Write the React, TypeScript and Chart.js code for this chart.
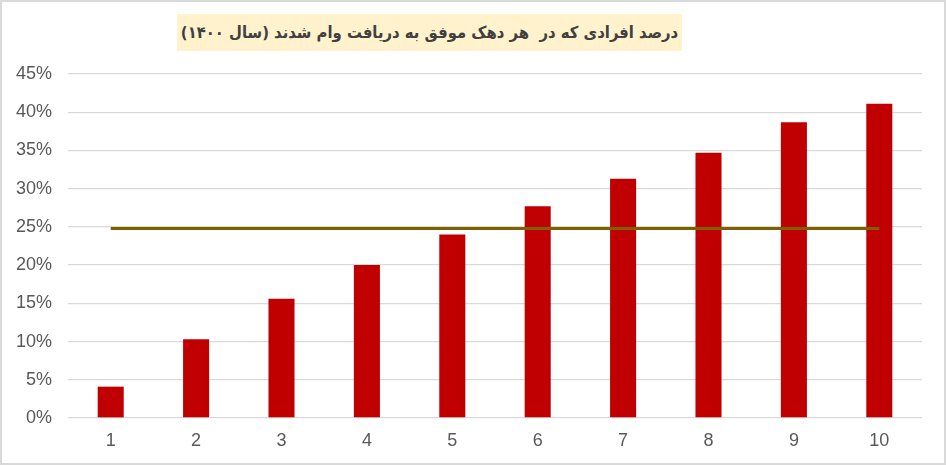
import { useEffect, useRef } from "react";
import Chart from "chart.js/auto";

const TITLE = "درصد افرادی که در  هر دهک موفق به دریافت وام شدند (سال ۱۴۰۰)";

const deciles = ["1", "2", "3", "4", "5", "6", "7", "8", "9", "10"];
const shareWithLoan = [4.1, 10.3, 15.6, 20.0, 24.0, 27.7, 31.3, 34.7, 38.7, 41.1];
const averageShare = [24.8, 24.8, 24.8, 24.8, 24.8, 24.8, 24.8, 24.8, 24.8, 24.8];

export default function App() {
	const canvasRef = useRef<HTMLCanvasElement>(null);
	const chartRef = useRef<Chart | null>(null);

	useEffect(() => {
		document.body.style.margin = "0";
		if (!canvasRef.current) return;
		if (chartRef.current) chartRef.current.destroy();

		chartRef.current = new Chart(canvasRef.current, {
			type: "bar",
			data: {
				labels: deciles,
				datasets: [
					{
						type: "line",
						label: "میانگین",
						data: averageShare,
						borderColor: "#7F6000",
						borderWidth: 3,
						pointRadius: 0,
						fill: false,
						order: 0,
					},
					{
						type: "bar",
						label: "درصد",
						data: shareWithLoan,
						backgroundColor: "#C00000",
						barPercentage: 0.305,
						categoryPercentage: 1,
						order: 1,
					},
				],
			},
			options: {
				responsive: true,
				maintainAspectRatio: false,
				animation: false,
				layout: { padding: { top: 74, right: 24, left: 0, bottom: 0 } },
				plugins: {
					legend: { display: false },
					tooltip: { enabled: false },
				},
				scales: {
					x: {
						grid: { display: false, drawTicks: false },
						border: { display: false },
						ticks: {
							color: "#595959",
							padding: 12,
							font: { family: "'Liberation Sans', Arial", size: 18 },
						},
						afterFit: (scale) => {
							scale.height = 47;
						},
					},
					y: {
						min: 0,
						max: 45,
						grid: { color: "#D9D9D9", lineWidth: 1.3, drawTicks: false },
						border: { display: false },
						ticks: {
							stepSize: 5,
							color: "#595959",
							padding: 16,
							font: { family: "'Liberation Sans', Arial", size: 18 },
							callback: (v) => `${v}%`,
						},
						afterFit: (scale) => {
							scale.width = 68;
						},
					},
				},
			},
		});

		return () => {
			if (chartRef.current) {
				chartRef.current.destroy();
				chartRef.current = null;
			}
		};
	}, []);

	return (
		<div style={{ position: "relative", width: 946, height: 465, background: "#fff" }}>
			<canvas ref={canvasRef}></canvas>
			<div
				style={{
					position: "absolute",
					left: 177,
					top: 14,
					width: 505,
					height: 37,
					background: "#FFF2CC",
					display: "flex",
					alignItems: "center",
					justifyContent: "center",
					direction: "rtl",
					fontFamily: "'DejaVu Sans Condensed', 'DejaVu Sans', sans-serif",
					fontWeight: "bold",
					fontSize: 16.5,
					color: "#404040",
					whiteSpace: "pre",
				}}
			>
				{TITLE}
			</div>
			<div
				style={{
					position: "absolute",
					inset: 0,
					boxSizing: "border-box",
					border: "2px solid #D9D9D9",
					pointerEvents: "none",
				}}
			></div>
		</div>
	);
}
